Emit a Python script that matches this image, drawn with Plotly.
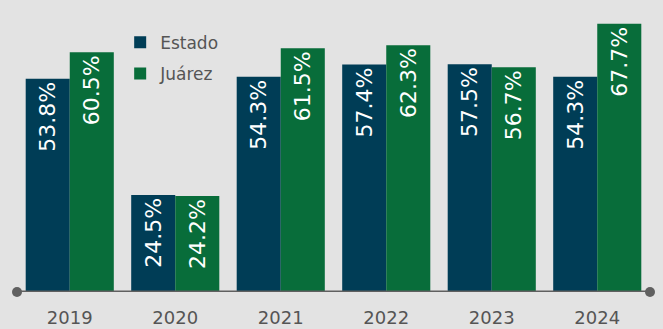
import plotly.graph_objects as go

years = ["2019", "2020", "2021", "2022", "2023", "2024"]
estado = [53.8, 24.5, 54.3, 57.4, 57.5, 54.3]
juarez = [60.5, 24.2, 61.5, 62.3, 56.7, 67.7]

BG = "#e3e3e3"
C_ESTADO = "#003d56"
C_JUAREZ = "#086d3a"
AXIS = "#606060"
TEXT = "#555555"
FONT = "DejaVu Sans"

xs = list(range(len(years)))

def pct(vals):
    return [f"{v:.1f}%" for v in vals]

fig = go.Figure()
for name, vals, color, grp in [("Estado", estado, C_ESTADO, "a"), ("Juárez", juarez, C_JUAREZ, "b")]:
    fig.add_trace(go.Bar(
        x=xs, y=vals, name=name, marker=dict(color=color, line=dict(width=0)),
        text=pct(vals), textposition="inside", insidetextanchor="end",
        textangle=-90, textfont=dict(color="white", size=22, family=FONT),
        legendgroup=grp, cliponaxis=False,
    ))

# baseline with round end caps
fig.add_trace(go.Scatter(
    x=[-0.5, 5.5], y=[0, 0], mode="lines+markers",
    line=dict(color=AXIS, width=3), marker=dict(color=AXIS, size=10),
    showlegend=False, hoverinfo="skip", cliponaxis=False,
))

fig.update_layout(
    width=663, height=329,
    margin=dict(l=17, r=13, t=0, b=37),
    paper_bgcolor=BG, plot_bgcolor=BG,
    barmode="group", bargap=0.165, bargroupgap=0,
    uniformtext=dict(mode=False),
    showlegend=True,
    legend=dict(
        x=0.163, y=0.915, xanchor="left", yanchor="top",
        bgcolor="rgba(0,0,0,0)", font=dict(size=17, color=TEXT, family=FONT),
        traceorder="grouped", tracegroupgap=6, itemwidth=30,
    ),
    xaxis=dict(
        range=[-0.5, 5.5], tickvals=xs, ticktext=years,
        showgrid=False, zeroline=False, showline=False, ticks="",
        tickfont=dict(size=18, color=TEXT, family=FONT),
        ticklabelstandoff=13,
    ),
    yaxis=dict(
        range=[0, 73.7], visible=False, showgrid=False, zeroline=False,
    ),
)

fig.write_html("out.html")
